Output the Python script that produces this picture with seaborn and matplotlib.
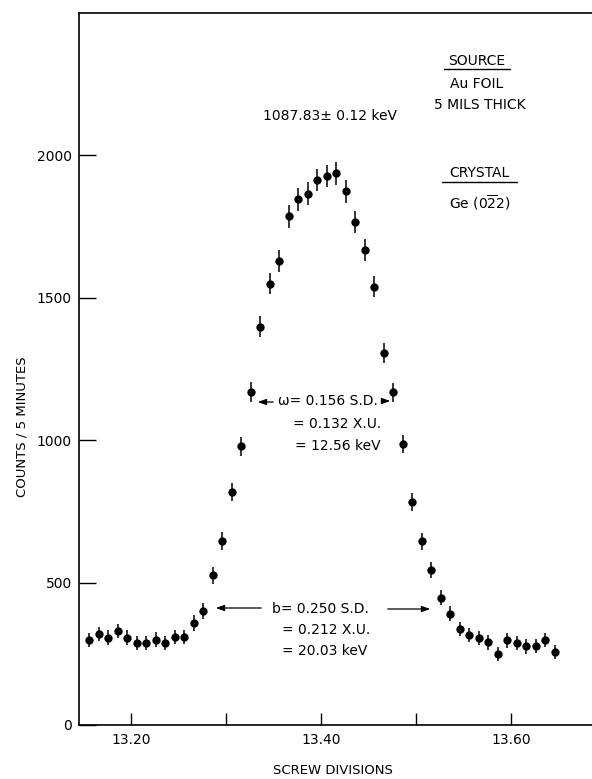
import numpy as np
import pandas as pd
import matplotlib
matplotlib.use("Agg")
import matplotlib.pyplot as plt
import seaborn as sns

# ---- data ----
screw = [13.156, 13.166, 13.176, 13.186, 13.196, 13.206, 13.216, 13.226, 13.236, 13.246,
         13.256, 13.266, 13.276, 13.286, 13.296, 13.306, 13.316, 13.326, 13.336, 13.346,
         13.356, 13.366, 13.376, 13.386, 13.396, 13.406, 13.416, 13.426, 13.436, 13.446,
         13.456, 13.466, 13.476, 13.486, 13.496, 13.506, 13.516, 13.526, 13.536, 13.546,
         13.556, 13.566, 13.576, 13.586, 13.596, 13.606, 13.616, 13.626, 13.636, 13.646]
counts = [298, 320, 307, 329, 307, 288, 289, 300, 287, 309,
          308, 358, 399, 526, 646, 817, 979, 1168, 1399, 1550,
          1629, 1786, 1846, 1865, 1914, 1928, 1937, 1874, 1766, 1668,
          1539, 1306, 1168, 987, 783, 645, 543, 447, 391, 336,
          316, 305, 290, 249, 297, 288, 276, 278, 298, 255]
errors = [25, 25, 25, 25, 25, 25, 25, 25, 25, 25,
          25, 27, 28, 30, 30, 32, 33, 35, 36, 37,
          38, 40, 40, 40, 40, 40, 40, 40, 40, 38,
          37, 35, 34, 32, 30, 30, 28, 27, 27, 25,
          25, 25, 25, 25, 25, 25, 25, 25, 25, 25]
y_ticks = [0, 500, 1000, 1500, 2000]
x_major = [13.20, 13.40, 13.60]
x_major_labels = ["13.20", "13.40", "13.60"]
x_minor = [13.30, 13.50]

df = pd.DataFrame({"screw": screw, "counts": counts, "err": errors})

sns.set_theme(style="white")
plt.rcParams["font.family"] = ["DejaVu Sans"]
plt.rcParams["mathtext.fontset"] = "dejavusans"
plt.rcParams["mathtext.default"] = "regular"
plt.rcParams["text.color"] = "black"
plt.rcParams["axes.labelcolor"] = "black"
plt.rcParams["xtick.color"] = "black"
plt.rcParams["ytick.color"] = "black"

W, H = 592, 779
fig = plt.figure(figsize=(W / 100, H / 100), dpi=100)
ax = fig.add_axes([79 / W, 1 - 725 / H, 1 - 79 / W, (725 - 13) / H])

def fx(px):
    return px / W

def fy(py):
    return 1 - py / H

# error bars + points
ax.errorbar(df["screw"], df["counts"], yerr=df["err"], fmt="none",
            ecolor="black", elinewidth=1.1, capsize=0, zorder=2)
sns.scatterplot(data=df, x="screw", y="counts", ax=ax, color="black",
                s=36, edgecolor="black", linewidth=0, zorder=3, legend=False)

ax.set_xlim(13.1453, 13.6853)
ax.set_ylim(0, 2500)

ax.set_yticks(y_ticks)
ax.set_yticklabels([str(v) for v in y_ticks])
ax.set_xticks(x_major)
ax.set_xticklabels(x_major_labels)
ax.set_xticks(x_minor, minor=True)
ax.tick_params(axis="y", which="major", direction="in", length=12, width=1.0,
               pad=5, labelsize=10, left=True, colors="black")
ax.tick_params(axis="x", which="major", direction="in", length=9, width=1.0,
               pad=6, labelsize=10, bottom=True, colors="black")
ax.tick_params(axis="x", which="minor", direction="in", length=9, width=1.0,
               bottom=True, colors="black")

for s in ["left", "bottom", "top"]:
    ax.spines[s].set_color("black")
    ax.spines[s].set_linewidth(1.2)
ax.spines["right"].set_visible(False)
ax.set_xlabel("")
ax.set_ylabel("")

# axis labels
fig.text(fx(22), fy(427), "COUNTS / 5 MINUTES", rotation=90, ha="center",
         va="center", fontsize=9.5, color="black")
fig.text(fx(333), fy(771), "SCREW DIVISIONS", ha="center", va="center",
         fontsize=9.5, color="black")

# annotations
fs = 10
fig.text(fx(477), fy(61), "SOURCE", ha="center", va="center", fontsize=fs)
fig.add_artist(plt.Line2D([fx(444), fx(510)], [fy(69), fy(69)], color="black", lw=1.0))
fig.text(fx(477), fy(84), "Au FOIL", ha="center", va="center", fontsize=fs)
fig.text(fx(480), fy(105), "5 MILS THICK", ha="center", va="center", fontsize=fs)
fig.text(fx(330), fy(116), "1087.83± 0.12 keV", ha="center", va="center", fontsize=fs)
fig.text(fx(479), fy(173), "CRYSTAL", ha="center", va="center", fontsize=fs)
fig.add_artist(plt.Line2D([fx(442), fx(517)], [fy(182), fy(182)], color="black", lw=1.0))
fig.text(fx(480), fy(203), r"Ge (0$\overline{2}$2)", ha="center", va="center", fontsize=fs)

astyle = "-|>,head_length=0.5,head_width=0.18"

def farrow(p0, p1):
    fig.add_artist(matplotlib.patches.FancyArrowPatch(
        (fx(p0[0]), fy(p0[1])), (fx(p1[0]), fy(p1[1])),
        transform=fig.transFigure, mutation_scale=10,
        arrowstyle=astyle, color="black", lw=0.9))

# omega annotation
fig.text(fx(278), fy(401), "ω= 0.156 S.D.", ha="left", va="center", fontsize=fs)
fig.text(fx(293), fy(424), "= 0.132 X.U.", ha="left", va="center", fontsize=fs)
fig.text(fx(295), fy(446), "= 12.56 keV", ha="left", va="center", fontsize=fs)
farrow((276, 402), (255, 402))
farrow((381, 401), (393, 401))

# b annotation
fig.text(fx(272), fy(609), "b= 0.250 S.D.", ha="left", va="center", fontsize=fs)
fig.text(fx(282), fy(630), "= 0.212 X.U.", ha="left", va="center", fontsize=fs)
fig.text(fx(282), fy(651), "= 20.03 keV", ha="left", va="center", fontsize=fs)
farrow((264, 608), (213, 608))
farrow((385, 609), (433, 609))

fig.savefig("out.png", dpi=100, facecolor="white")
